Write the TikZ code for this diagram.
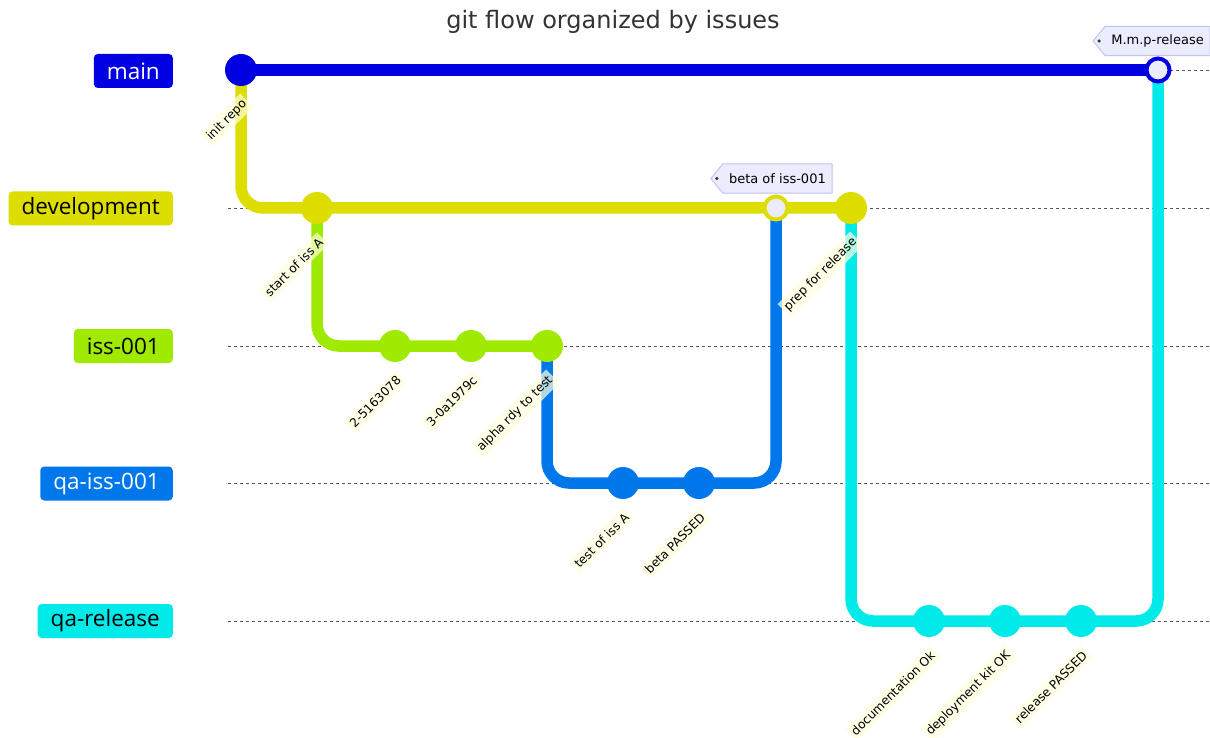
\documentclass[tikz,border=0pt]{standalone}
\usepackage{fontspec}
\setmainfont{DejaVu Sans}
\newfontfamily\branchfont{Open Sans}
\usetikzlibrary{calc,backgrounds}
\definecolor{cmain}{HTML}{0000E0}
\definecolor{cdev}{HTML}{DDDD00}
\definecolor{ciss}{HTML}{9FEA00}
\definecolor{cqa}{HTML}{0077EA}
\definecolor{crel}{HTML}{00EAEA}
\definecolor{taglav}{HTML}{ECECFF}
\definecolor{tagborder}{HTML}{C4C4F0}
\definecolor{lblbg}{HTML}{FFFFDE}
\definecolor{lanegray}{HTML}{555555}
\definecolor{titlegray}{HTML}{333333}
\begin{document}
\begin{tikzpicture}[x=1pt,y=-1pt,
  branchname/.style={anchor=east, rounded corners=4pt, minimum height=34pt, inner xsep=13pt, inner ysep=0pt, font=\branchfont\fontsize{22.5}{24}\selectfont},
  lane/.style={draw=lanegray, line width=0.8pt, dash pattern=on 3pt off 3pt},
  branchline/.style={line width=11.5pt, rounded corners=22pt},
  commit/.style={circle, minimum size=32pt, inner sep=0pt},
  merge/.style={circle, minimum size=23pt, inner sep=0pt, line width=4pt, fill=taglav},
  clabel/.style={rotate=45, anchor=east, fill=lblbg, fill opacity=0.7, text opacity=1, inner xsep=3pt, inner ysep=3.5pt, font=\fontsize{12.2}{14}\selectfont},
  tagtext/.style={anchor=east, inner xsep=6pt, inner ysep=0pt, minimum height=29pt, font=\fontsize{13}{15}\selectfont},
  tagshape/.style={fill=taglav, draw=tagborder, line width=1pt, line join=round}
]
\useasboundingbox (0,0) rectangle (1210,738);
\begin{scope}[on background layer]
  \fill[white] (0,0) rectangle (1210,738);
\end{scope}

% title
\node[font=\fontsize{24}{28}\selectfont, text=titlegray] (title) at (613,22) {git flow organized by issues};

% branch names
\node[branchname, fill=cmain, text=white] (bmain) at (173,71) {main};
\node[branchname, fill=cdev, text=black] (bdev) at (173,208.5) {development};
\node[branchname, fill=ciss, text=black] (biss) at (173,346) {iss-001};
\node[branchname, fill=cqa, text=white] (bqa) at (173,483.5) {qa-iss-001};
\node[branchname, fill=crel, text=black] (brel) at (173,621) {qa-release};

% lanes
\coordinate (a0) at (228,70);   \coordinate (b0) at (1210,70);
\coordinate (a1) at (228,208);  \coordinate (b1) at (1210,208);
\coordinate (a2) at (228,346);  \coordinate (b2) at (1210,346);
\coordinate (a3) at (228,483);  \coordinate (b3) at (1210,483);
\coordinate (a4) at (228,621);  \coordinate (b4) at (1210,621);
\foreach \i in {0,...,4} { \draw[lane] (a\i) -- (b\i); }

% commit positions
\coordinate (p0) at (241,70);
\coordinate (p1) at (317,208);
\coordinate (p2) at (395,346);
\coordinate (p3) at (471,346);
\coordinate (p4) at (547,346);
\coordinate (p5) at (623,483);
\coordinate (p6) at (699,483);
\coordinate (pm1) at (776,208);
\coordinate (p7) at (851,208);
\coordinate (p8) at (929,621);
\coordinate (p9) at (1005,621);
\coordinate (p10) at (1081,621);
\coordinate (pm2) at (1158,70);

% branch lines
\draw[branchline, cmain] (p0) -- (pm2);
\draw[branchline, cdev] (p0) |- (p7);
\draw[branchline, ciss] (p1) |- (p4);
\draw[branchline, cqa] (p4) |- (p6) -| (pm1);
\draw[branchline, crel] (p7) |- (p10) -| (pm2);

% commits
\node[commit, fill=cmain] (c0) at (p0) {};
\node[commit, fill=cdev] (c1) at (p1) {};
\node[commit, fill=ciss] (c2) at (p2) {};
\node[commit, fill=ciss] (c3) at (p3) {};
\node[commit, fill=ciss] (c4) at (p4) {};
\node[commit, fill=cqa] (c5) at (p5) {};
\node[commit, fill=cqa] (c6) at (p6) {};
\node[merge, draw=cdev] (m1) at (pm1) {};
\node[commit, fill=cdev] (c7) at (p7) {};
\node[commit, fill=crel] (c8) at (p8) {};
\node[commit, fill=crel] (c9) at (p9) {};
\node[commit, fill=crel] (c10) at (p10) {};
\node[merge, draw=cmain] (m2) at (pm2) {};

% commit labels
\node[clabel] (l0) at ($(p0)+(6,30)$) {init repo};
\node[clabel] (l1) at ($(p1)+(6,30)$) {start of iss A};
\node[clabel] (l2) at ($(p2)+(6,30)$) {2-5163078};
\node[clabel] (l3) at ($(p3)+(6,30)$) {3-0a1979c};
\node[clabel] (l4) at ($(p4)+(6,30)$) {alpha rdy to test};
\node[clabel] (l5) at ($(p5)+(6,30)$) {test of iss A};
\node[clabel] (l6) at ($(p6)+(6,30)$) {beta PASSED};
\node[clabel] (l7) at ($(p7)+(6,30)$) {prep for release};
\node[clabel] (l8) at ($(p8)+(6,30)$) {documentation Ok};
\node[clabel] (l9) at ($(p9)+(6,30)$) {deployment kit OK};
\node[clabel] (l10) at ($(p10)+(6,30)$) {release PASSED};

% tags
\node[tagtext] (tbeta) at (832,178.5) {beta of iss-001};
\node[tagtext] (trel) at (1210,41) {M.m.p-release};
\begin{scope}[on background layer]
  \foreach \t in {tbeta,trel} {
    \draw[tagshape] (\t.north east) -- (\t.south east) -- (\t.south west)
      -- ($(\t.west)+(-12,0)$) -- (\t.north west) -- cycle;
    \fill[black!80] ($(\t.west)+(-6,0)$) circle (1.8);
  }
\end{scope}
\end{tikzpicture}
\end{document}
